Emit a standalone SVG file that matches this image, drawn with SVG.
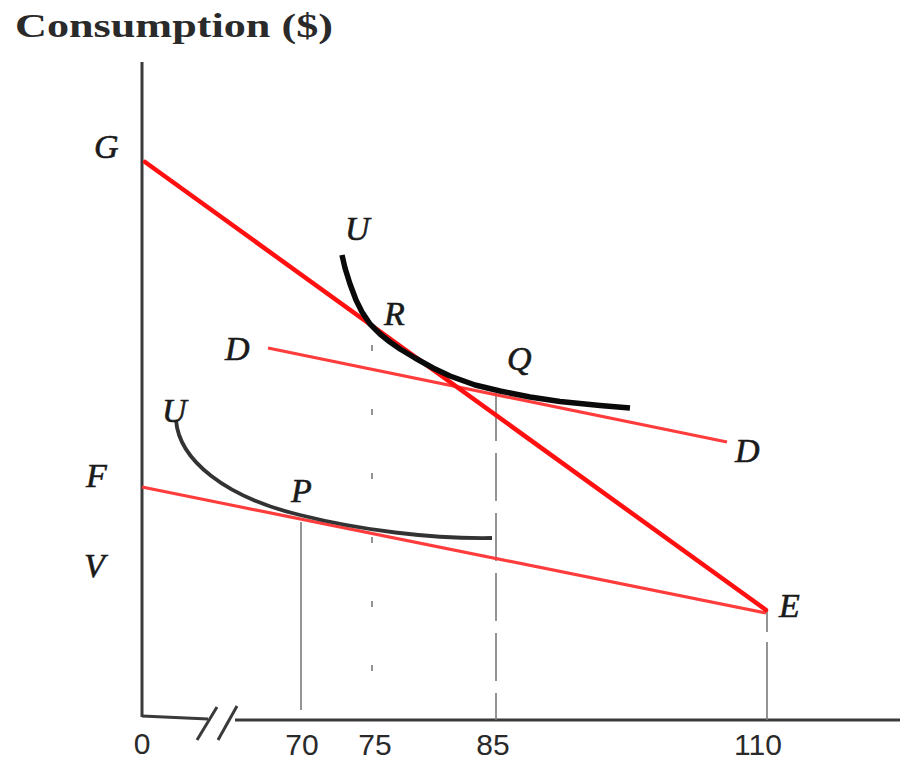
<svg xmlns="http://www.w3.org/2000/svg" width="900" height="763" viewBox="0 0 900 763">
<style>
.axis{stroke:#3a3a3a;stroke-width:3;fill:none}
.guide{stroke:#7a7a7a;stroke-width:1.6;fill:none}
.budget{stroke:#ff1010;stroke-width:4.5;fill:none;stroke-linecap:round}
.thin{stroke:#ff3c3c;stroke-width:3.2;fill:none}
.lbl{font-family:"Liberation Serif",serif;font-style:italic;font-size:34px;fill:#1a1a1a;stroke:#1a1a1a;stroke-width:0.6}
.num{font-family:"Liberation Sans",sans-serif;font-size:30px;fill:#2a2a2a}
.title{font-family:"Liberation Serif",serif;font-weight:bold;font-size:33px;fill:#2a2a2a}
</style>
<rect width="900" height="763" fill="#fff"/>
<text class="title" x="15" y="37" textLength="318" lengthAdjust="spacingAndGlyphs">Consumption ($)</text>
<g id="axes">
<line class="axis" x1="142" y1="62" x2="142" y2="717"/>
<polyline class="axis" points="142,716 208,719"/>
<line class="axis" x1="235" y1="720" x2="900" y2="720"/>
<line class="axis" x1="197" y1="740" x2="217" y2="707" stroke-width="2.5"/>
<line class="axis" x1="218" y1="740" x2="237" y2="706" stroke-width="2.5"/>
</g>
<g id="guides">
<line class="guide" x1="301" y1="522" x2="301" y2="710"/>
<line class="guide" x1="372" y1="345" x2="372" y2="720" stroke-dasharray="6 58"/>
<line class="guide" x1="496" y1="393" x2="496" y2="720" stroke-dasharray="48 12"/>
<line class="guide" x1="767" y1="610" x2="767" y2="720" stroke-dasharray="22 10 200"/>
</g>
<g id="connectors">
<line class="thin" x1="142" y1="487" x2="766" y2="613"/>
<line class="thin" x1="268" y1="348" x2="727" y2="442"/>
<line class="budget" x1="145" y1="162" x2="766" y2="610"/>
</g>
<g id="curve-upper">
<polyline fill="none" stroke="#0a0a0a" stroke-width="5.5" stroke-linejoin="round" points="342,255 345,268 350,284 356,300 362,312 370,324 380,334 390,342 400,349 415,358 433,368 450,376 475,385 500,391 530,397 560,401.5 600,405.5 630,408"/>
</g>
<g id="curve-lower">
<path fill="none" stroke="#333" stroke-width="3.8" d="M176,420 C179,460 225,497 300,515 C360,530 430,539 492,538"/>
</g>
<g id="labels">
<text class="lbl" x="94" y="158">G</text>
<text class="lbl" x="345" y="240">U</text>
<text class="lbl" x="384" y="325">R</text>
<text class="lbl" x="225" y="360">D</text>
<text class="lbl" x="507" y="370">Q</text>
<text class="lbl" x="162" y="422">U</text>
<text class="lbl" x="735" y="462">D</text>
<text class="lbl" x="86" y="487">F</text>
<text class="lbl" x="291" y="502">P</text>
<text class="lbl" x="84" y="577">V</text>
<text class="lbl" x="779" y="617">E</text>
</g>
<g id="ticks">
<text class="num" x="142" y="754" text-anchor="middle">0</text>
<text class="num" x="302" y="755" text-anchor="middle">70</text>
<text class="num" x="375" y="755" text-anchor="middle">75</text>
<text class="num" x="493" y="755" text-anchor="middle">85</text>
<text class="num" x="758" y="755" text-anchor="middle">110</text>
</g>
</svg>
